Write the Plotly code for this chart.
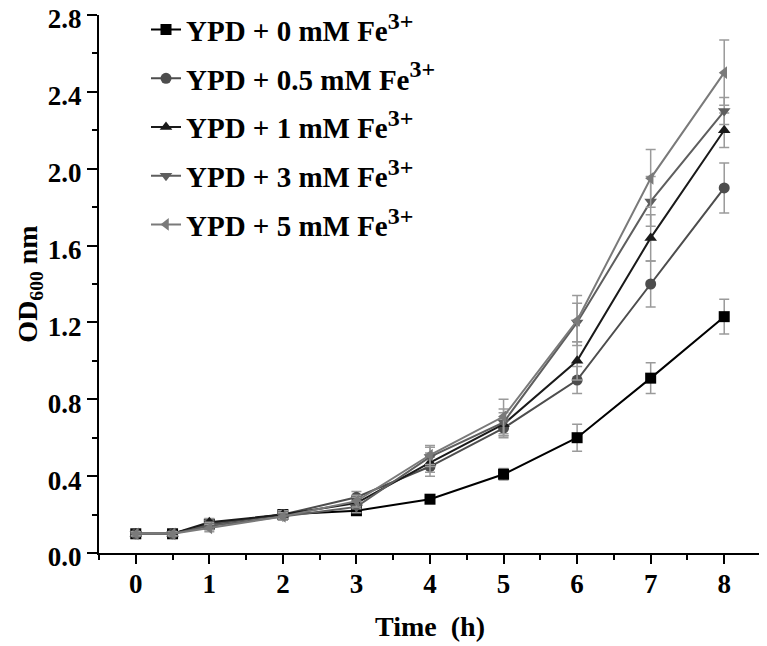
import plotly.graph_objects as go

time_h = [0, 0.5, 1, 2, 3, 4, 5, 6, 7, 8]

od_0mM = [0.10, 0.10, 0.15, 0.20, 0.22, 0.28, 0.41, 0.60, 0.91, 1.23]
err_0mM = [0.01, 0.01, 0.02, 0.02, 0.02, 0.02, 0.03, 0.07, 0.08, 0.09]

od_05mM = [0.10, 0.10, 0.15, 0.20, 0.29, 0.45, 0.65, 0.90, 1.40, 1.90]
err_05mM = [0.01, 0.01, 0.02, 0.02, 0.03, 0.05, 0.05, 0.07, 0.12, 0.13]

od_1mM = [0.10, 0.10, 0.16, 0.20, 0.26, 0.47, 0.67, 1.00, 1.64, 2.20]
err_1mM = [0.01, 0.01, 0.02, 0.02, 0.03, 0.05, 0.06, 0.10, 0.12, 0.09]

od_3mM = [0.10, 0.10, 0.14, 0.19, 0.24, 0.50, 0.68, 1.20, 1.83, 2.30]
err_3mM = [0.01, 0.01, 0.02, 0.02, 0.03, 0.05, 0.07, 0.10, 0.13, 0.07]

od_5mM = [0.10, 0.10, 0.13, 0.19, 0.27, 0.51, 0.71, 1.21, 1.95, 2.50]
err_5mM = [0.01, 0.01, 0.02, 0.02, 0.03, 0.05, 0.09, 0.13, 0.15, 0.17]

sup = "<sup><span style='font-size:24px'>3+</span></sup>"
labels = ["YPD + 0 mM Fe" + sup, "YPD + 0.5 mM Fe" + sup,
          "YPD + 1 mM Fe" + sup, "YPD + 3 mM Fe" + sup,
          "YPD + 5 mM Fe" + sup]

series = [od_0mM, od_05mM, od_1mM, od_3mM, od_5mM]
errors = [err_0mM, err_05mM, err_1mM, err_3mM, err_5mM]
colors = ["#000000", "#4d4d4d", "#1a1a1a", "#5e5e5e", "#7a7a7a"]
symbols = ["square", "circle", "triangle-up", "triangle-down", "triangle-left"]

fig = go.Figure()
for i in range(5):
    fig.add_trace(go.Scatter(
        x=time_h, y=series[i], name=labels[i], mode="lines+markers",
        line=dict(color=colors[i], width=2),
        marker=dict(symbol=symbols[i], size=11, color=colors[i]),
        error_y=dict(type="data", array=errors[i], visible=True,
                     color="#9a9a9a", thickness=1.5, width=5),
        legendgroup=str(i),
    ))

font_family = "Liberation Serif"
# the page body adds an 8px offset, so the figure is sized to the visible area
fig.update_layout(
    width=759, height=638,
    margin=dict(l=91, r=6, t=7, b=93, autoexpand=False),
    paper_bgcolor="white", plot_bgcolor="white",
    font=dict(family=font_family, size=27, color="black", weight="bold"),
    showlegend=True,
    legend=dict(x=0.071, y=1.02, xanchor="left", yanchor="top",
                bgcolor="rgba(0,0,0,0)", font=dict(size=29, family=font_family, weight="bold"),
                tracegroupgap=8, itemwidth=30),
    xaxis=dict(range=[-0.5, 8.5], tickvals=[0, 1, 2, 3, 4, 5, 6, 7, 8],
               automargin=False,
               showline=True, linecolor="black", linewidth=2,
               ticks="outside", ticklen=9, tickwidth=2, tickcolor="black",
               minor=dict(dtick=0.5, tick0=0, ticks="outside", ticklen=5, tickwidth=2, tickcolor="black"),
               showgrid=False, zeroline=False, ticklabelstandoff=-3,
               title=dict(text="Time  (h)", font=dict(size=28, family=font_family, weight="bold"), standoff=18),
               tickfont=dict(size=27, family=font_family, weight="bold")),
    yaxis=dict(range=[0, 2.8], tick0=0, dtick=0.4, tickformat=".1f",
               automargin=False, ticklabeloverflow="allow", ticklabelshift=4,
               showline=True, linecolor="black", linewidth=2,
               ticks="outside", ticklen=10, tickwidth=2, tickcolor="black",
               minor=dict(dtick=0.2, tick0=0, ticks="outside", ticklen=5, tickwidth=2, tickcolor="black"),
               showgrid=False, zeroline=False,
               title=dict(text="OD<sub>600</sub> nm", font=dict(size=28, family=font_family, weight="bold"), standoff=2),
               tickfont=dict(size=27, family=font_family, weight="bold")),
)

fig.write_html("out.html")
